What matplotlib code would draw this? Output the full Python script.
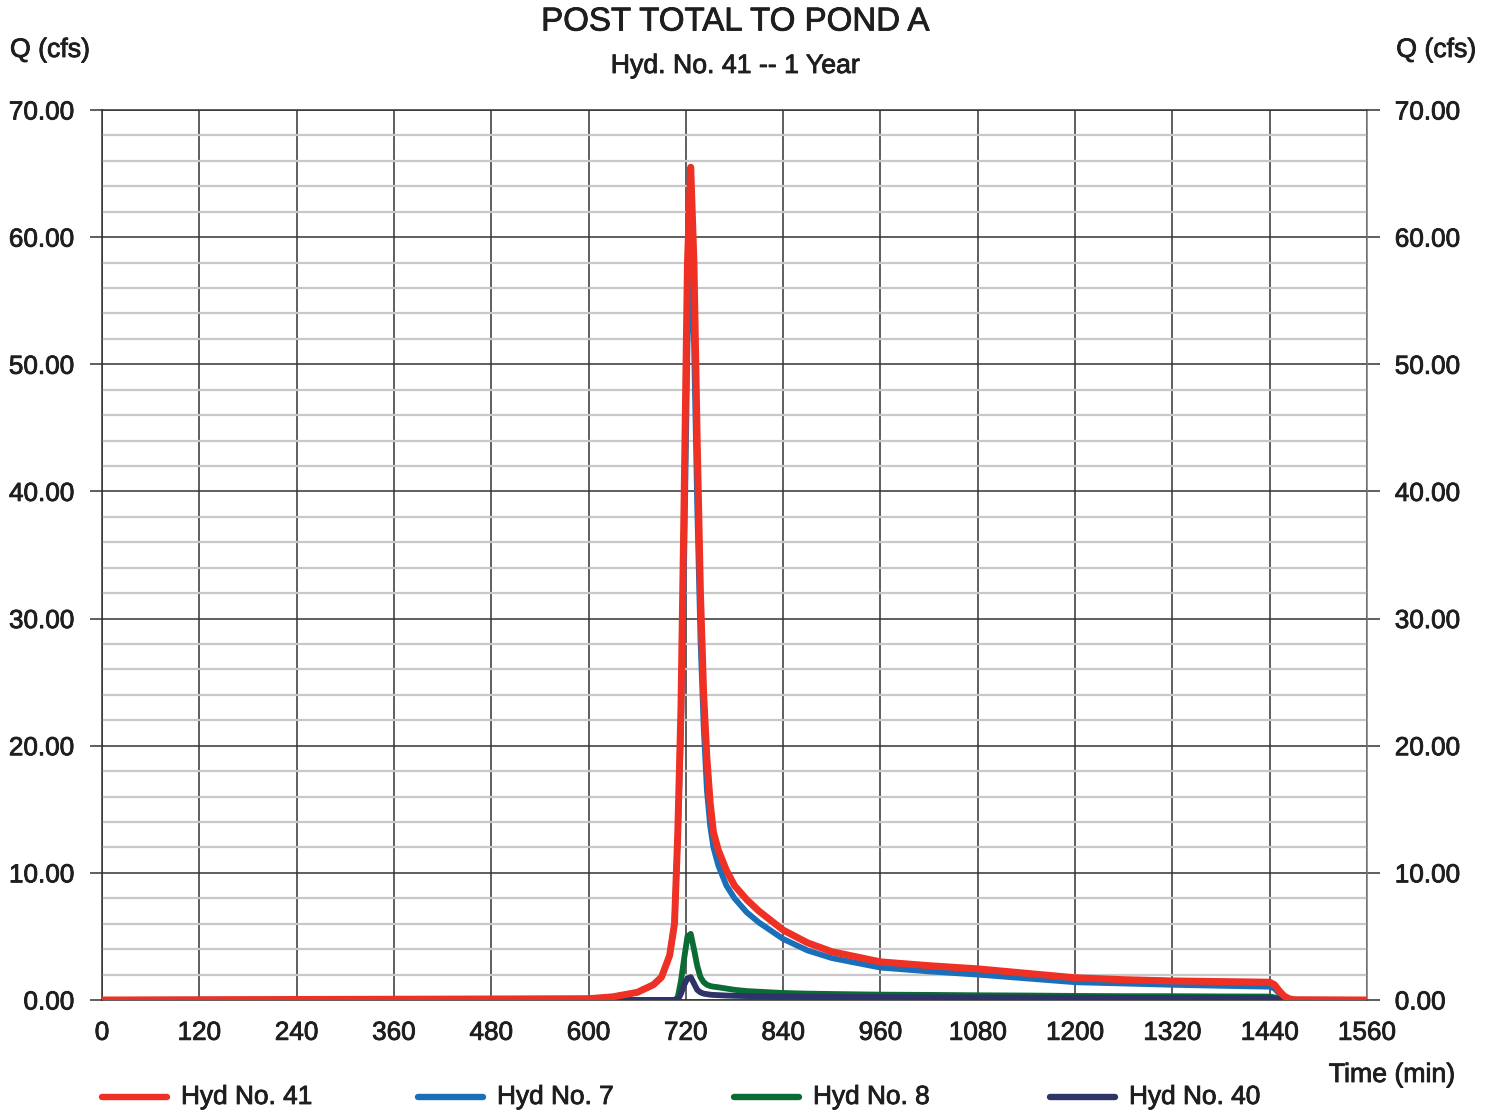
import matplotlib
matplotlib.use("Agg")
import matplotlib.pyplot as plt
import matplotlib.patheffects as pe
from matplotlib.lines import Line2D
from matplotlib.ticker import MultipleLocator, FormatStrFormatter

plt.rcParams['font.family'] = ['Liberation Sans', 'DejaVu Sans']

TEXT = '#1e1e1e'
heavy = [pe.withStroke(linewidth=0.6, foreground=TEXT)]

# Hydrograph ordinates (time in minutes, flow in cfs)
time_min = [0, 600, 630, 660, 680, 690, 700, 706, 710, 714, 718, 722, 726, 730,
            734, 738, 742, 746, 750, 754, 760, 770, 780, 795, 810, 840, 870, 900,
            960, 1020, 1080, 1140, 1200, 1260, 1320, 1380, 1440, 1446, 1452, 1458,
            1464, 1470, 1560]

hyd_41 = [0, 0.1, 0.25, 0.6, 1.2, 1.8, 3.5, 6.0, 13.0, 23.0, 40.0, 58.0, 65.5, 58.0,
          44.0, 32.0, 24.0, 19.0, 15.5, 13.2, 11.8, 10.2, 9.0, 7.9, 7.0, 5.5, 4.5, 3.8,
          3.0, 2.7, 2.45, 2.1, 1.75, 1.6, 1.5, 1.45, 1.4, 1.2, 0.7, 0.3,
          0.1, 0.02, 0]

hyd_7 = [0, 0.1, 0.25, 0.6, 1.2, 1.8, 3.5, 6.0, 12.8, 21.0, 35.0, 51.5, 60.0, 52.0,
         39.0, 28.5, 21.5, 16.5, 13.7, 12.0, 10.6, 9.0, 8.0, 6.9, 6.1, 4.8, 3.9, 3.3,
         2.55, 2.25, 2.0, 1.7, 1.4, 1.3, 1.2, 1.12, 1.05, 0.9, 0.5, 0.22,
         0.07, 0.02, 0]

hyd_8 = [0, 0, 0, 0, 0, 0, 0, 0, 0.2, 1.5, 3.3, 5.0, 5.2, 4.0,
         2.7, 1.8, 1.4, 1.2, 1.1, 1.05, 1.0, 0.9, 0.8, 0.7, 0.65, 0.55, 0.5, 0.47,
         0.42, 0.4, 0.37, 0.35, 0.32, 0.3, 0.3, 0.28, 0.27, 0.2, 0.1, 0.03,
         0, 0, 0]

hyd_40 = [0, 0, 0, 0, 0, 0, 0, 0, 0, 0.5, 1.2, 1.7, 1.8, 1.3,
          0.8, 0.6, 0.5, 0.46, 0.42, 0.4, 0.38, 0.35, 0.33, 0.31, 0.3, 0.28, 0.26, 0.25,
          0.23, 0.22, 0.2, 0.19, 0.18, 0.17, 0.16, 0.16, 0.15, 0.1, 0.05, 0.02,
          0, 0, 0]

labels = ["Hyd No. 41", "Hyd No. 7", "Hyd No. 8", "Hyd No. 40"]
colors = ["#EE3124", "#1A6FB8", "#0B6B34", "#2E3468"]
series = [hyd_41, hyd_7, hyd_8, hyd_40]

fig = plt.figure(figsize=(14.96, 11.14), dpi=100)
ax = fig.add_axes([102 / 1496, 1 - 1000 / 1114, 1265 / 1496, 890 / 1114])

# draw blue, green, navy, then red on top
order = [1, 2, 3, 0]
for i in order:
    ax.plot(time_min, series[i], color=colors[i],
            lw=5.0 if i == 0 else 4.2,
            solid_capstyle='round', solid_joinstyle='round', zorder=5 + order.index(i))

ax.set_xlim(0, 1560)
ax.set_ylim(0, 70)
ax.xaxis.set_major_locator(MultipleLocator(120))
ax.yaxis.set_major_locator(MultipleLocator(10))
ax.yaxis.set_minor_locator(MultipleLocator(2))
ax.yaxis.set_major_formatter(FormatStrFormatter('%.2f'))

ax.grid(which='minor', axis='y', color='#c8c8c8', lw=1.6, zorder=1)
ax.grid(which='major', axis='y', color='#333333', lw=1.1, zorder=2)
ax.grid(which='major', axis='x', color='#333333', lw=1.1, zorder=2)
ax.set_axisbelow(True)

for s in ['left', 'top', 'bottom']:
    ax.spines[s].set_color('#333333')
    ax.spines[s].set_linewidth(1.1)
ax.spines['right'].set_color('#777777')
ax.spines['right'].set_linewidth(1.1)

ax.tick_params(axis='y', which='major', direction='out', length=9, width=1.1,
               color='#333333', left=True, right=True, labelleft=True, labelright=True,
               labelsize=18.8, pad=11, labelcolor=TEXT)
ax.tick_params(axis='y', which='minor', length=0)
ax.tick_params(axis='x', which='major', length=0, labelsize=18.8, pad=15, labelcolor=TEXT)
for t in ax.yaxis.get_major_ticks() + ax.xaxis.get_major_ticks():
    t.label1.set_path_effects(heavy)
    t.label2.set_path_effects(heavy)

fig.text(0.491, 1 - 22 / 1114, "POST TOTAL TO POND A", ha='center', va='center',
         fontsize=23.8, color=TEXT, path_effects=heavy)
fig.text(0.491, 1 - 66 / 1114, "Hyd. No. 41 -- 1 Year", ha='center', va='center',
         fontsize=19.2, color=TEXT, path_effects=heavy)
fig.text(10 / 1496, 1 - 50 / 1114, "Q (cfs)", ha='left', va='center', fontsize=19.2,
         color=TEXT, path_effects=heavy)
fig.text(1476 / 1496, 1 - 50 / 1114, "Q (cfs)", ha='right', va='center', fontsize=19.2,
         color=TEXT, path_effects=heavy)
fig.text(1455 / 1496, 1 - 1075 / 1114, "Time (min)", ha='right', va='center',
         fontsize=19.2, color=TEXT, path_effects=heavy)

# legend row beneath the axes
y_leg = 1 - 1097 / 1114
for k, (lab, col) in enumerate(zip(labels, colors)):
    x0 = (102 + 316 * k) / 1496
    fig.add_artist(Line2D([x0, x0 + 65 / 1496], [y_leg, y_leg], color=col, lw=4.6,
                          solid_capstyle='round', transform=fig.transFigure))
    fig.text(x0 + 79 / 1496, y_leg, lab, ha='left', va='center', fontsize=18.9,
             color=TEXT, path_effects=heavy)

fig.savefig("out.png", dpi=100)
